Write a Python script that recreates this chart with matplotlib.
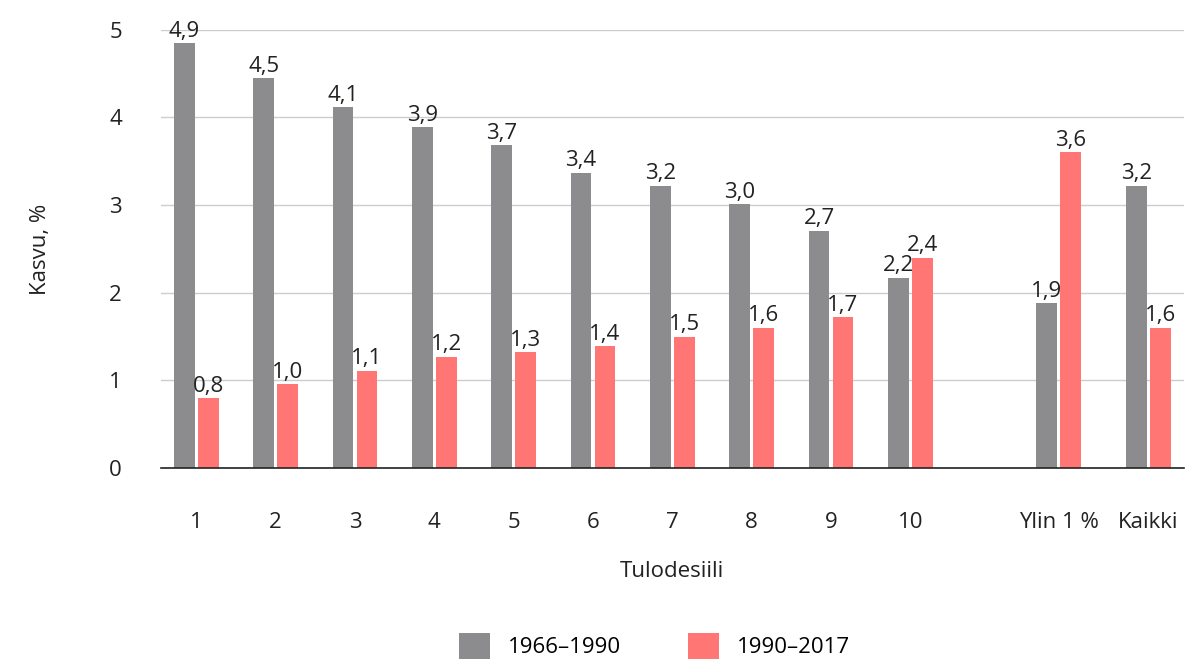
import matplotlib.pyplot as plt
import numpy as np

plt.rcParams['font.family'] = ['Open Sans', 'DejaVu Sans']

categories = ['1', '2', '3', '4', '5', '6', '7', '8', '9', '10', 'Ylin 1 %', 'Kaikki']
positions = [0, 1, 2, 3, 4, 5, 6, 7, 8, 9, 10.87, 12.0]
old_vals = [4.85, 4.45, 4.12, 3.89, 3.68, 3.37, 3.22, 3.01, 2.71, 2.17, 1.88, 3.22]
new_vals = [0.80, 0.96, 1.11, 1.27, 1.32, 1.39, 1.50, 1.60, 1.72, 2.40, 3.60, 1.60]
old_labels = ['4,9', '4,5', '4,1', '3,9', '3,7', '3,4', '3,2', '3,0', '2,7', '2,2', '1,9', '3,2']
new_labels = ['0,8', '1,0', '1,1', '1,2', '1,3', '1,4', '1,5', '1,6', '1,7', '2,4', '3,6', '1,6']

gray = '#8c8c8e'
red = '#ff7675'
txt = '#222222'

fig = plt.figure(figsize=(11.9, 6.62), dpi=100)
ax = fig.add_axes([0.135, 0.293, 0.86, 0.662])

x = np.array(positions)
w = 0.26
b1 = ax.bar(x - w / 2 - 0.02, old_vals, w, color=gray, label='1966–1990', zorder=3)
b2 = ax.bar(x + w / 2 + 0.02, new_vals, w, color=red, label='1990–2017', zorder=3)

# value labels above each bar
for bars, labs in [(b1, old_labels), (b2, new_labels)]:
    for rect, lab in zip(bars, labs):
        ax.annotate(lab, (rect.get_x() + rect.get_width() / 2, rect.get_height()),
                    xytext=(0, 1), textcoords='offset points', ha='center', va='bottom',
                    fontsize=16, color=txt)

ax.set_ylim(0, 5)
ax.set_xlim(-0.45, 12.45)
ax.set_yticks([0, 1, 2, 3, 4, 5])
ax.set_xticks(positions)
ax.set_xticklabels(categories)
ax.tick_params(axis='both', length=0, labelsize=16, colors=txt)
ax.tick_params(axis='x', pad=32)
ax.tick_params(axis='y', pad=28)
ax.grid(axis='y', color='#cccccc', linewidth=1, zorder=0)
for s in ['top', 'right', 'left']:
    ax.spines[s].set_visible(False)
ax.spines['bottom'].set_color(txt)
ax.spines['bottom'].set_linewidth(1.2)
ax.spines['bottom'].set_zorder(4)

ax.set_ylabel('Kasvu, %', fontsize=16, color=txt, labelpad=42)
ax.set_xlabel('Tulodesiili', fontsize=16, color=txt, labelpad=20)

fig.legend(handles=[b1, b2], loc='lower center', bbox_to_anchor=(0.55, -0.025),
           ncol=2, frameon=False, fontsize=16, handlelength=1.4, handleheight=1.4,
           columnspacing=3.0, handletextpad=0.8)

fig.savefig('out.png', dpi=100)
